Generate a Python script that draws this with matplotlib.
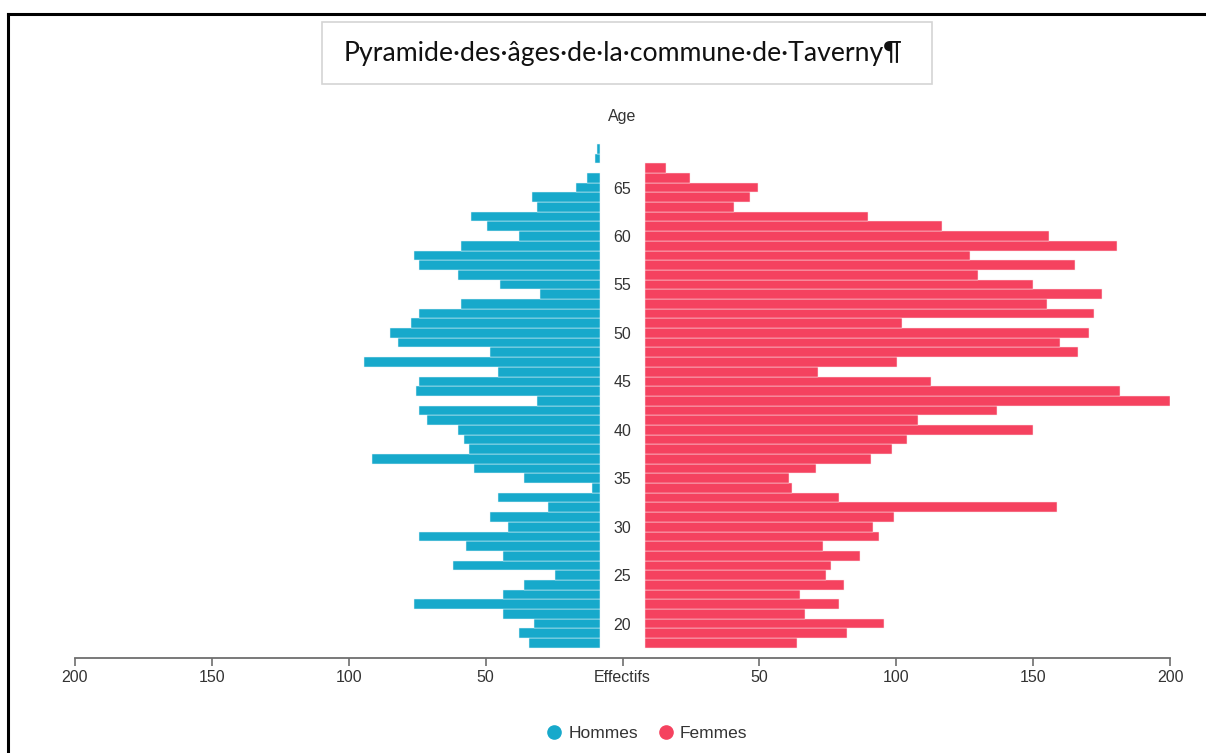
import matplotlib
matplotlib.use("Agg")
import matplotlib.pyplot as plt
from matplotlib.lines import Line2D
from matplotlib.patches import Rectangle
from matplotlib.ticker import FuncFormatter

# Pyramide des âges, Taverny: ages 18 -> 69
ages = list(range(18, 70))
hommes = [27, 31, 25, 37, 71, 37, 29, 17, 56, 37,
          51, 69, 35, 42, 20, 39, 3, 29, 48, 87,
          50, 52, 54, 66, 69, 24, 70, 69, 39, 90,
          42, 77, 80, 72, 69, 53, 23, 38, 54, 69,
          71, 53, 31, 43, 49, 24, 26, 9, 5, 0,
          2, 1]
femmes = [58, 77, 91, 61, 74, 59, 76, 69, 71, 82,
          68, 89, 87, 95, 157, 74, 56, 55, 65, 86,
          94, 100, 148, 104, 134, 200, 181, 109, 66, 96,
          165, 158, 169, 98, 171, 153, 174, 148, 127, 164,
          124, 180, 154, 113, 85, 34, 40, 43, 17, 8,
          0, 0]
age_ticks = [20, 25, 30, 35, 40, 45, 50, 55, 60, 65]
effectif_ticks = [-200, -150, -100, -50, 0, 50, 100, 150, 200]

title = "Pyramide·des·âges·de·la·commune·de·Taverny¶"
blue = "#17a9cb"
red = "#f5425f"
txt = "#333333"

W, H = 1206, 753
fig = plt.figure(figsize=(W / 100, H / 100), dpi=100)
plt.rcParams["font.family"] = ["Liberation Sans", "DejaVu Sans"]

# bars axes: 75px..1170px wide, 140px..658px tall
ax = fig.add_axes([75 / W, (H - 658) / H, 1095 / W, 518 / H])
gap = 8.571  # empty space each side of the centre, in effectif units
lim = 200 + gap
ax.barh(ages, [-v for v in hommes], left=-gap, height=1.0, color=blue,
        edgecolor="#e8f6fa", linewidth=[0.35 if v else 0 for v in hommes])
ax.barh(ages, femmes, left=gap, height=1.0, color=red,
        edgecolor="#fde6ea", linewidth=[0.35 if v else 0 for v in femmes])
ax.set_xlim(-lim, lim)
ax.set_ylim(16.45, 69.91)
for s in ax.spines.values():
    s.set_visible(False)
ax.set_xticks([])
ax.set_yticks([])

for a in age_ticks:
    ax.text(0, a - 0.15, str(a), ha="center", va="center", fontsize=11.5, color=txt)

# effectifs axis, its own scale over the full width
sec = ax.secondary_xaxis("bottom", functions=(lambda x: x * 200 / lim,
                                              lambda x: x * lim / 200))
sec.set_xticks(effectif_ticks)
sec.xaxis.set_major_formatter(FuncFormatter(
    lambda v, p: "Effectifs" if v == 0 else f"{abs(v):.0f}"))
sec.spines["bottom"].set_color("#6e6e6e")
sec.spines["bottom"].set_linewidth(1.3)
sec.tick_params(direction="out", length=6, width=1.2, color="#6e6e6e",
                labelsize=11.5, labelcolor=txt, pad=3)

fig.text(622.5 / W, (H - 116) / H, "Age", ha="center", va="center",
         fontsize=11.5, color=txt)

# title box
fig.add_artist(Rectangle((322 / W, (H - 84) / H), 610 / W, 62 / H,
                         transform=fig.transFigure, fill=False,
                         edgecolor="#d4d4d4", linewidth=1.2))
fig.text(623 / W, (H - 53) / H, title, ha="center", va="center",
         fontsize=19.2, color="#111111", family=["Lato", "DejaVu Sans"])

# legend
handles = [Line2D([], [], marker="o", linestyle="none", markersize=9.5,
                  color=blue, label="Hommes"),
           Line2D([], [], marker="o", linestyle="none", markersize=9.5,
                  color=red, label="Femmes")]
fig.legend(handles=handles, loc="center", ncol=2, frameon=False,
           bbox_to_anchor=(642 / W, (H - 733) / H), fontsize=12.5,
           handletextpad=-0.2, columnspacing=0.6, labelcolor=txt)

# screenshot frame (top and left edges)
fig.add_artist(Line2D([8 / W, 1], [(H - 13.5) / H] * 2, color="black", lw=2.2))
fig.add_artist(Line2D([8 / W] * 2, [0, (H - 13.5) / H], color="black", lw=2.2))

fig.savefig("out.png", dpi=100)
